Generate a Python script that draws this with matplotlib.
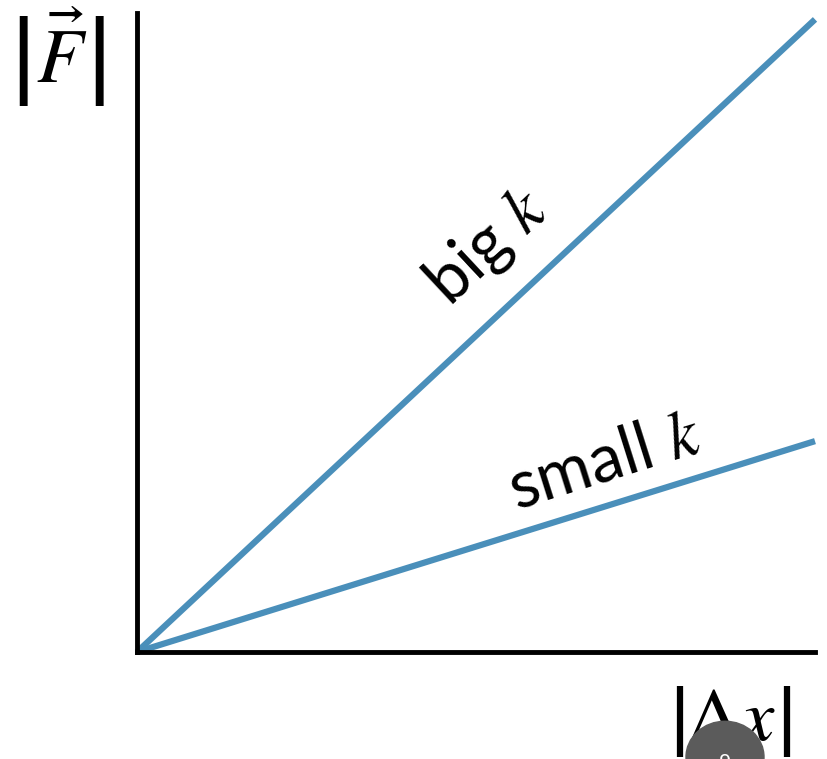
import matplotlib.pyplot as plt
from matplotlib.patches import Circle

plt.rcParams['mathtext.fontset'] = 'stix'

# data
x = [0, 1]
big_k = [0, 0.99]
small_k = [0, 0.33]
line_color = '#4a8fba'

fig = plt.figure(figsize=(8.28, 7.59), dpi=100)
ax = fig.add_axes([137 / 828, 1 - 652 / 759, (815 - 137) / 828, (652 - 13) / 759])
ax.set_xlim(0, 1)
ax.set_ylim(0, 1)

ax.plot(x, big_k, color=line_color, lw=4.5, solid_capstyle='butt', clip_on=False)
ax.plot(x, small_k, color=line_color, lw=4.5, solid_capstyle='butt', clip_on=False)

for side in ['top', 'right']:
    ax.spines[side].set_visible(False)
for side in ['left', 'bottom']:
    ax.spines[side].set_linewidth(3.5)
    ax.spines[side].set_color('black')
ax.set_xticks([])
ax.set_yticks([])

# line labels
ax.text(0.516, 0.634, 'big $k$', rotation=43, fontsize=48, family='Lato',
        ha='center', va='center', rotation_mode='anchor')
ax.text(0.69, 0.297, 'small $k$', rotation=17.5, fontsize=48, family='Lato',
        ha='center', va='center', rotation_mode='anchor')

# axis labels: |F| top left
px = lambda v: v / 828
py = lambda v: 1 - v / 759
fig.text(px(62), py(83), r'$\vec{F}$', fontsize=55, ha='center', va='baseline')
for bx in [23, 99]:
    fig.text(px(bx), py(86), '|', fontsize=70, family='Liberation Sans',
             ha='center', va='baseline')

# |Δx| bottom right
fig.text(px(731), py(741), r'$\Delta x$', fontsize=54, ha='center', va='baseline')
for bx in [679, 786]:
    fig.text(px(bx), py(741), '|', fontsize=55, family='Liberation Sans',
             ha='center', va='baseline')

# page badge
badge = Circle((px(725), py(757)), 39 / 828, transform=fig.transFigure,
               color='#5b5b5b', zorder=5)
fig.patches.append(badge)
fig.text(px(725), py(762), '9', color='white', fontsize=14,
         ha='center', va='center', zorder=6)

fig.savefig('out.png', dpi=100)
